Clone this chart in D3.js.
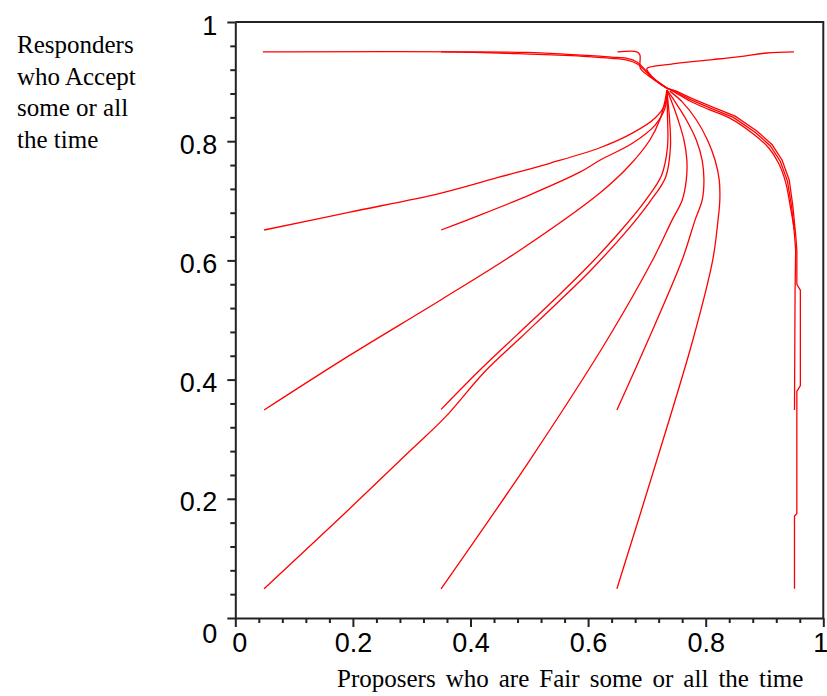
<!DOCTYPE html>
<html>
<head>
<meta charset="utf-8">
<script src="https://cdn.jsdelivr.net/npm/d3@7"></script>
<style>
  body { margin: 0; background: #fff; }
  svg { display: block; }
  .tick text { font-family: "Liberation Sans", Arial, sans-serif; font-size: 27px; fill: #000; }
  .title { font-family: "Liberation Serif", "Times New Roman", serif; font-size: 25px; fill: #000; }
</style>
</head>
<body>
<svg id="chart" width="827" height="696"></svg>
<script>
// tick values
var major_ticks = [0, 0.2, 0.4, 0.6, 0.8, 1];
var minor_ticks = [0.04, 0.08, 0.12, 0.16, 0.24, 0.28, 0.32, 0.36, 0.44, 0.48, 0.52, 0.56,
                   0.64, 0.68, 0.72, 0.76, 0.84, 0.88, 0.92, 0.96];

// axis titles
var y_title = ["Responders", "who Accept", "some or all", "the time"];
var x_title = "Proposers who are Fair some or all the time";

// trajectories, [fair, accept]
var traj_05_95 = [[0.047,0.950],[0.497,0.949],[0.56,0.946],[0.60,0.944],[0.64,0.941],[0.666,0.939],
                  [0.683,0.933],[0.697,0.920],[0.710,0.906],[0.722,0.897],[0.734,0.889]];
var traj_35_95 = [[0.35,0.950],[0.45,0.948],[0.50,0.946],[0.56,0.944],[0.60,0.942],[0.64,0.939],
                  [0.666,0.936],[0.683,0.930],[0.697,0.918],[0.712,0.904],[0.724,0.896],[0.734,0.889]];
var traj_65_95 = [[0.650,0.950],[0.683,0.950],[0.688,0.945],[0.689,0.922],[0.700,0.912],
                  [0.712,0.903],[0.724,0.895],[0.734,0.889]];
var traj_95_95 = [[0.950,0.950],[0.904,0.948],[0.858,0.942],[0.812,0.937],[0.773,0.933],
                  [0.739,0.929],[0.700,0.922],[0.703,0.915],[0.718,0.900],[0.734,0.889]];
var traj_05_65 = [[0.049,0.651],[0.195,0.681],[0.350,0.713],[0.450,0.740],[0.535,0.763],
                  [0.620,0.789],[0.676,0.814],[0.714,0.839],[0.731,0.862],[0.734,0.886]];
var traj_35_65 = [[0.350,0.651],[0.416,0.676],[0.501,0.710],[0.586,0.748],[0.620,0.768],
                  [0.676,0.797],[0.714,0.827],[0.731,0.856],[0.734,0.883]];
var traj_05_35 = [[0.049,0.349],[0.195,0.441],[0.350,0.534],[0.484,0.617],[0.620,0.713],
                  [0.671,0.760],[0.705,0.802],[0.722,0.836],[0.731,0.869],[0.734,0.886]];
var traj_35_35 = [[0.350,0.350],[0.416,0.416],[0.479,0.475],[0.540,0.532],[0.598,0.588],
                  [0.654,0.648],[0.697,0.700],[0.725,0.743],[0.735,0.790],[0.735,0.844],[0.734,0.886]];
var traj_05_05 = [[0.049,0.049],[0.180,0.170],[0.300,0.283],[0.357,0.337],[0.423,0.412],
                  [0.486,0.471],[0.547,0.528],[0.605,0.584],[0.661,0.644],[0.704,0.697],
                  [0.732,0.740],[0.740,0.790],[0.738,0.844],[0.734,0.883]];
var traj_35_05 = [[0.350,0.049],[0.501,0.265],[0.632,0.466],[0.710,0.601],[0.743,0.668],
                  [0.760,0.701],[0.767,0.735],[0.768,0.768],[0.763,0.802],[0.753,0.836],
                  [0.741,0.869],[0.734,0.886]];
var traj_65_35 = [[0.649,0.349],[0.702,0.466],[0.760,0.601],[0.782,0.668],[0.794,0.701],
                  [0.797,0.735],[0.794,0.768],[0.784,0.802],[0.767,0.836],[0.748,0.866],[0.734,0.886]];
var traj_65_05 = [[0.649,0.049],[0.717,0.265],[0.778,0.466],[0.812,0.601],[0.821,0.668],
                  [0.824,0.701],[0.823,0.735],[0.816,0.768],[0.803,0.802],[0.784,0.836],
                  [0.760,0.866],[0.739,0.884]];
var traj_95_05 = [[0.951,0.049],[0.951,0.171],[0.955,0.175],[0.955,0.380],[0.961,0.390],
                  [0.961,0.550],[0.955,0.560],[0.955,0.617],[0.953,0.643],[0.948,0.693],
                  [0.942,0.735],[0.930,0.768],[0.913,0.794],[0.887,0.817],[0.850,0.842],
                  [0.812,0.857],[0.778,0.871],[0.750,0.884],[0.734,0.889]];
var traj_95_35 = [[0.951,0.349],[0.952,0.550],[0.953,0.617],[0.951,0.643],[0.946,0.691],
                  [0.939,0.733],[0.927,0.766],[0.910,0.792],[0.884,0.815],[0.847,0.840],
                  [0.809,0.855],[0.776,0.869],[0.749,0.883],[0.734,0.889]];
var traj_95_65 = [[0.951,0.651],[0.944,0.690],[0.936,0.731],[0.924,0.763],[0.907,0.789],
                  [0.881,0.812],[0.844,0.837],[0.806,0.853],[0.774,0.867],[0.748,0.882],[0.734,0.889]];

var trajectories = [traj_05_95, traj_35_95, traj_65_95, traj_95_95,
                    traj_05_65, traj_35_65, traj_05_35, traj_35_35,
                    traj_05_05, traj_35_05, traj_65_35, traj_65_05,
                    traj_95_05, traj_95_35, traj_95_65];
// these climb the right edge in small steps, drawn straight
var stepped = [traj_95_05, traj_95_35];

var svg = d3.select("#chart");

var x = d3.scaleLinear().domain([0, 1]).range([235.3, 823.3]);
var y = d3.scaleLinear().domain([0, 1]).range([618, 22]);

var fmt = function(d) { return String(+d.toFixed(1)); };

// frame, top and right
svg.append("path")
    .attr("d", "M" + x(0) + "," + y(1) + "H" + x(1) + "V" + y(0))
    .attr("fill", "none")
    .attr("stroke", "#222")
    .attr("stroke-width", 2);

// minor ticks
svg.append("g")
    .attr("transform", "translate(0," + y(0) + ")")
    .call(d3.axisBottom(x).tickValues(minor_ticks).tickSize(5).tickFormat(""))
    .call(function(g) { g.select(".domain").remove(); });
svg.append("g")
    .attr("transform", "translate(" + x(0) + ",0)")
    .call(d3.axisLeft(y).tickValues(minor_ticks).tickSize(5).tickFormat(""))
    .call(function(g) { g.select(".domain").remove(); });

// major ticks and labels
var x_axis = svg.append("g")
    .attr("transform", "translate(0," + y(0) + ")")
    .call(d3.axisBottom(x).tickValues(major_ticks).tickSize(9).tickSizeOuter(0)
          .tickPadding(6).tickFormat(fmt));
x_axis.selectAll(".tick text").filter(function(d) { return d === 0; }).attr("dx", 4);
x_axis.selectAll(".tick text").filter(function(d) { return d === 1; }).attr("dx", -3);

var y_axis = svg.append("g")
    .attr("transform", "translate(" + x(0) + ",0)")
    .call(d3.axisLeft(y).tickValues(major_ticks).tickSize(8).tickSizeOuter(0)
          .tickPadding(10).tickFormat(fmt));
y_axis.selectAll(".tick text").attr("dy", "0.45em");
y_axis.selectAll(".tick text").filter(function(d) { return d === 0; }).attr("dy", "0.89em");

svg.selectAll(".domain, .tick line")
    .attr("stroke", "#222")
    .attr("stroke-width", 2);
svg.selectAll("g").attr("font-family", null).attr("font-size", null);

// trajectories
var smooth_line = d3.line()
    .x(function(d) { return x(d[0]); })
    .y(function(d) { return y(d[1]); })
    .curve(d3.curveCatmullRom.alpha(0.5));
var straight_line = d3.line()
    .x(function(d) { return x(d[0]); })
    .y(function(d) { return y(d[1]); });

svg.append("g")
    .selectAll("path")
    .data(trajectories)
    .enter()
    .append("path")
    .attr("d", function(d) {
        return stepped.indexOf(d) !== -1 ? straight_line(d) : smooth_line(d);
    })
    .attr("fill", "none")
    .attr("stroke", "#ff0000")
    .attr("stroke-width", 1.3);

// titles
svg.append("text")
    .attr("class", "title")
    .selectAll("tspan")
    .data(y_title)
    .enter()
    .append("tspan")
    .attr("x", 17)
    .attr("y", function(d, i) { return 53 + i * 31.7; })
    .text(function(d) { return d; });

svg.append("text")
    .attr("class", "title")
    .attr("x", 337)
    .attr("y", 687)
    .style("word-spacing", "3.8px")
    .text(x_title);
</script>
</body>
</html>
